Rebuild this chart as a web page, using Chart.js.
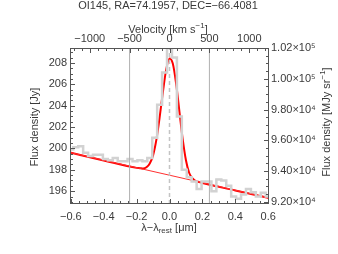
<!DOCTYPE html>
<html>
<head>
<meta charset="utf-8">
<script src="https://cdn.jsdelivr.net/npm/chart.js@4/dist/chart.umd.min.js"></script>
<style>
  html, body { margin: 0; padding: 0; background: #fff; }
  #spec { display: block; }
</style>
</head>
<body>
<canvas id="spec" width="338" height="254"></canvas>
<script>
// OI145 line spectrum - histogram + gaussian fit on continuum

const titleText = 'OI145, RA=74.1957, DEC=\u221266.4081';
const lambdaRest = 145.525;          // micron
const cKms = 299792.458;

// binned spectrum (bin centres in micron, flux in Jy)
const binX = [-0.60, -0.57, -0.54, -0.51, -0.48, -0.45, -0.42, -0.39, -0.36, -0.33,
              -0.30, -0.27, -0.24, -0.21, -0.18, -0.15, -0.12, -0.09, -0.06, -0.03,
               0.00,  0.03,  0.06,  0.09,  0.12,  0.15,  0.18,  0.21,  0.24,  0.27,
               0.30,  0.33,  0.36,  0.39,  0.42,  0.45,  0.48,  0.51,  0.54,  0.57, 0.60];
const binFlux = [199.9, 200.1, 200.2, 199.6, 199.3, 199.4, 199.4, 199.0, 198.9, 199.1,
                 198.8, 198.8, 199.0, 198.8, 198.9, 198.8, 199.1, 201.0, 204.1, 207.1,
                 210.5, 208.5, 203.0, 198.0, 197.3, 196.9, 196.2, 196.9, 196.9, 196.0,
                 197.1, 197.0, 196.5, 195.5, 195.3, 195.7, 196.2, 195.9, 195.5, 195.85, 195.5];

// fitted profile (line + continuum)
const fitX = [-0.605, -0.40, -0.20, -0.18, -0.16, -0.14, -0.12, -0.10, -0.08, -0.06, -0.04, -0.02,
               0.00, 0.02, 0.04, 0.06, 0.08, 0.10, 0.12, 0.14, 0.16, 0.18, 0.20, 0.40, 0.605];
const fitY = [199.62, 198.87, 198.18, 198.15, 198.12, 198.24, 198.6, 199.35, 200.8, 202.9, 205.3, 207.4,
              208.42, 207.95, 206.1, 203.5, 200.9, 198.9, 197.7, 197.2, 196.95, 196.85, 196.76, 196.07, 195.37];

// continuum alone
const contX = [-0.605, 0.605];
const contY = [199.62, 195.37];

// velocity markers (km/s)
const velLimits = [-500, 500];
const velZero = 0;

// axis ranges and ticks
const xMin = -0.605, xMax = 0.605;
const yMin = 194.8, yMax = 209.4;
const yRMin = 91860, yRMax = 102000;
const xTicks = [-0.6, -0.4, -0.2, 0.0, 0.2, 0.4, 0.6];
const velTicks = [-1000, -500, 0, 500, 1000];
const yTicks = [196, 198, 200, 202, 204, 206, 208];
const yRTicks = [92000, 94000, 96000, 98000, 100000, 102000];

const vMax = xMax * cKms / lambdaRest;
const FONT = '11px "Liberation Sans", Arial, sans-serif';
const INK = '#3a3a3a';

function minus(s) { return String(s).replace('-', '\u2212'); }

function pts(xs, ys) { return xs.map((x, i) => ({ x, y: ys[i] })); }

function vline(v) { return [{ x: v, y: yMin }, { x: v, y: yMax }]; }

function setTicks(vals) {
    return (scale) => { scale.ticks = vals.map((v) => ({ value: v })); };
}

// draw a string made of normal / sup / sub pieces, centred at (cx, cy)
function richText(ctx, parts, cx, cy) {
    const big = FONT, small = '8px "Liberation Sans", Arial, sans-serif';
    let w = 0;
    parts.forEach((p) => {
        ctx.font = p.m ? small : big;
        p.w = ctx.measureText(p.t).width;
        w += p.w;
    });
    let x = cx - w / 2;
    ctx.textBaseline = 'middle';
    ctx.textAlign = 'left';
    parts.forEach((p) => {
        ctx.font = p.m ? small : big;
        const dy = p.m === 'sup' ? -4 : (p.m === 'sub' ? 3 : 0);
        ctx.fillText(p.t, x, cy + dy);
        x += p.w;
    });
}

const frame = {
    id: 'frame',
    afterDraw(chart) {
        const { ctx, chartArea: a, scales } = chart;
        ctx.save();
        ctx.strokeStyle = '#555';
        ctx.lineWidth = 1;
        ctx.strokeRect(a.left + 0.5, a.top + 0.5, a.right - a.left - 1, a.bottom - a.top - 1);

        ctx.beginPath();
        // bottom axis: major 0.2, minor 0.05
        for (let k = -12; k <= 12; k++) {
            const px = Math.round(scales.x.getPixelForValue(k * 0.05)) + 0.5;
            const len = k % 4 === 0 ? 5 : 3;
            ctx.moveTo(px, a.bottom); ctx.lineTo(px, a.bottom - len);
        }
        // top axis: major 500, minor 100
        for (let k = -12; k <= 12; k++) {
            const px = Math.round(scales.xTop.getPixelForValue(k * 100)) + 0.5;
            const len = k % 5 === 0 ? 5 : 3;
            ctx.moveTo(px, a.top); ctx.lineTo(px, a.top + len);
        }
        // left axis: major 2, minor 0.5
        for (let k = 390; k <= 418; k++) {
            const py = Math.round(scales.y.getPixelForValue(k * 0.5)) + 0.5;
            const len = k % 4 === 0 ? 5 : 3;
            ctx.moveTo(a.left, py); ctx.lineTo(a.left + len, py);
        }
        // right axis: major 2000, minor 500
        for (let v = 92000; v <= 102000; v += 500) {
            const py = Math.round(scales.yR.getPixelForValue(v)) + 0.5;
            const len = v % 2000 === 0 ? 5 : 3;
            ctx.moveTo(a.right, py); ctx.lineTo(a.right - len, py);
        }
        ctx.stroke();

        // titles
        ctx.fillStyle = INK;
        ctx.font = FONT;
        ctx.textAlign = 'center';
        ctx.textBaseline = 'alphabetic';
        ctx.fillText(titleText, 168, 9);

        richText(ctx, [{ t: 'Velocity [km s' }, { t: '\u22121', m: 'sup' }, { t: ']' }], 168, 30);
        richText(ctx, [{ t: '\u03bb\u2212\u03bb' }, { t: 'rest', m: 'sub' }, { t: ' [\u03bcm]' }], 169, 228);

        ctx.save();
        ctx.translate(35, 127);
        ctx.rotate(-Math.PI / 2);
        richText(ctx, [{ t: 'Flux density [Jy]' }], 0, 0);
        ctx.restore();

        ctx.save();
        ctx.translate(327, 122);
        ctx.rotate(-Math.PI / 2);
        richText(ctx, [{ t: 'Flux density [MJy sr' }, { t: '\u22121', m: 'sup' }, { t: ']' }], 0, 0);
        ctx.restore();

        ctx.restore();
    }
};

function tickFont() { return { family: '"Liberation Sans", Arial, sans-serif', size: 11 }; }

const noGrid = { display: false, drawTicks: false };

new Chart(document.getElementById('spec').getContext('2d'), {
    type: 'scatter',
    data: {
        datasets: [
            { data: vline(velLimits[0]), xAxisID: 'xTop', yAxisID: 'y', showLine: true,
              borderColor: '#b0b0b0', borderWidth: 1, pointRadius: 0 },
            { data: vline(velLimits[1]), xAxisID: 'xTop', yAxisID: 'y', showLine: true,
              borderColor: '#b0b0b0', borderWidth: 1, pointRadius: 0 },
            { data: vline(velZero), xAxisID: 'xTop', yAxisID: 'y', showLine: true,
              borderColor: '#c4c4c4', borderWidth: 1.5, borderDash: [4, 3], pointRadius: 0 },
            // spectrum: light halo then darker core
            { data: pts(binX, binFlux), xAxisID: 'x', yAxisID: 'y', showLine: true, stepped: 'middle',
              borderColor: '#d2d2d2', borderWidth: 2.5, pointRadius: 0 },
            { data: pts(binX, binFlux), xAxisID: 'x', yAxisID: 'y', showLine: true, stepped: 'middle',
              borderColor: '#8a8a8a', borderWidth: 1, pointRadius: 0 },
            { data: pts(contX, contY), xAxisID: 'x', yAxisID: 'y', showLine: true,
              borderColor: '#ff3030', borderWidth: 1, pointRadius: 0 },
            { data: pts(fitX, fitY), xAxisID: 'x', yAxisID: 'y', showLine: true,
              cubicInterpolationMode: 'monotone',
              borderColor: '#ff0000', borderWidth: 2, pointRadius: 0 },
            // keeps the right axis alive
            { data: [], xAxisID: 'x', yAxisID: 'yR' }
        ]
    },
    options: {
        responsive: false,
        animation: false,
        devicePixelRatio: 1,
        layout: { padding: 0 },
        plugins: { legend: { display: false }, tooltip: { enabled: false } },
        scales: {
            x: {
                type: 'linear', position: 'bottom', min: xMin, max: xMax,
                grid: noGrid, border: { display: false },
                afterBuildTicks: setTicks(xTicks),
                afterFit: (s) => { s.height = 50; },
                ticks: { color: INK, font: tickFont(), padding: 6, maxRotation: 0,
                         callback: (v) => minus(Number(v).toFixed(1)) }
            },
            xTop: {
                type: 'linear', position: 'top', min: -vMax, max: vMax,
                grid: noGrid, border: { display: false },
                afterBuildTicks: setTicks(velTicks),
                afterFit: (s) => { s.height = 48; },
                ticks: { color: INK, font: tickFont(), padding: 2, maxRotation: 0,
                         callback: (v) => minus(v) }
            },
            y: {
                type: 'linear', position: 'left', min: yMin, max: yMax,
                grid: noGrid, border: { display: false },
                afterBuildTicks: setTicks(yTicks),
                afterFit: (s) => { s.width = 70; },
                ticks: { color: INK, font: tickFont(), padding: 3, callback: (v) => String(v) }
            },
            yR: {
                type: 'linear', position: 'right', min: yRMin, max: yRMax,
                grid: noGrid, border: { display: false },
                afterBuildTicks: setTicks(yRTicks),
                afterFit: (s) => { s.width = 69; },
                ticks: {
                    color: INK, font: tickFont(), padding: 2,
                    callback: (v) => v >= 100000 ? (v / 1e5).toFixed(2) + '\u00d710\u2075'
                                                 : (v / 1e4).toFixed(2) + '\u00d710\u2074'
                }
            }
        }
    },
    plugins: [frame]
});
</script>
</body>
</html>
